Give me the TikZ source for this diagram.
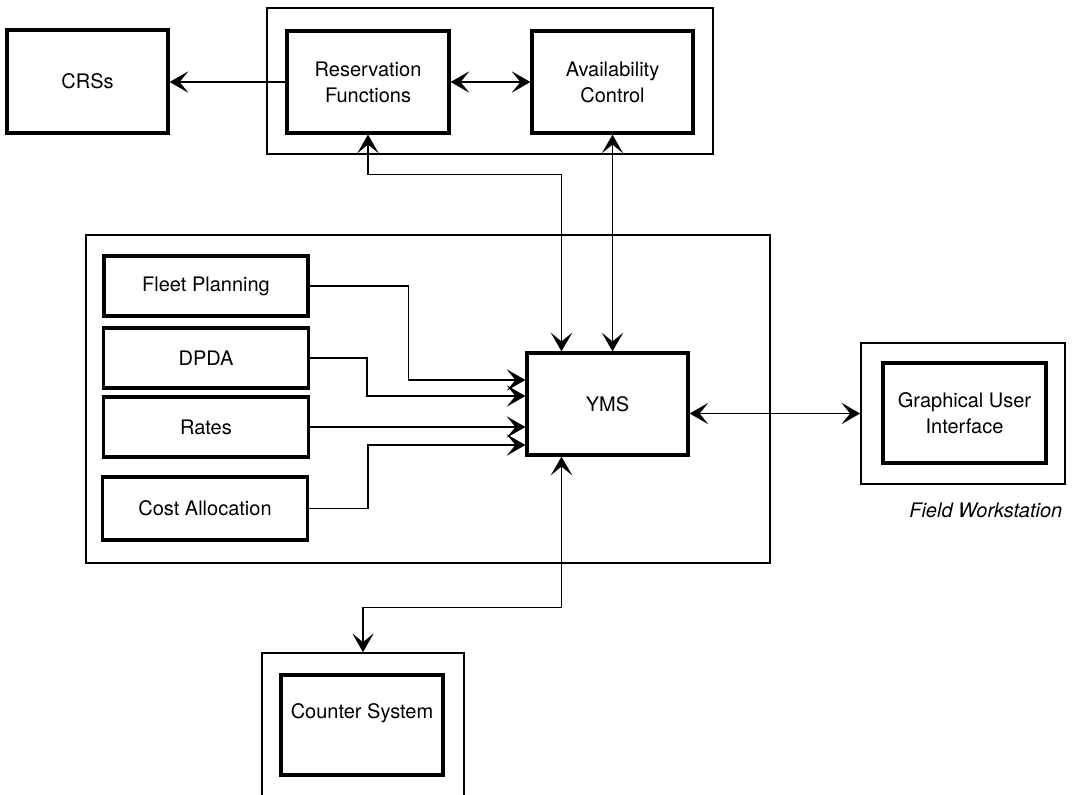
\documentclass[tikz,border=0pt]{standalone}
\usepackage{fontspec}
\setmainfont{TeX Gyre Heros}
\usepackage{tikz}
\usetikzlibrary{arrows.meta,positioning}
\newlength{\px}
\setlength{\px}{0.75pt}
\tikzstyle{chart} = [x = 0.75pt, y = -0.75pt, every node/.style={font=\fontsize{15}{19.5}\selectfont}]
\tikzstyle{moduleStyle} = [draw, line width=2.4pt, align=center, inner sep=0pt]
\tikzstyle{frameStyle} = [draw, line width=1.3pt, inner sep=0pt]
\tikzstyle{link} = [line width=1.3pt]
\tikzstyle{linkTip} = [link, -{Stealth[length=14pt, width=16pt, inset=6.5pt]}]
\tikzstyle{linkBoth} = [link, {Stealth[length=14pt, width=16pt, inset=6.5pt]}-{Stealth[length=14pt, width=16pt, inset=6.5pt]}]
\newcommand{\moduleBox}[6]{\node [moduleStyle, minimum width=#4*\px, minimum height=#5*\px] (#1) at (#2,#3) {#6};}
\newcommand{\frameBox}[5]{\node [frameStyle, minimum width=#4*\px, minimum height=#5*\px] (#1) at (#2,#3) {};}

\begin{document}
\begin{tikzpicture}[chart]
  \useasboundingbox (0,0) rectangle (1079,794);
  \clip (0,0) rectangle (1079,794);
  % frames
  \frameBox{topFrame}{490}{81}{446}{146}
  \frameBox{mainFrame}{428}{399}{684}{328}
  \frameBox{guiFrame}{963}{413.5}{204}{141}
  \frameBox{counterFrame}{363}{753}{202}{200}
  % modules
  \moduleBox{crs}{87.5}{81.5}{161}{103}{CRSs}
  \moduleBox{res}{368}{82}{162}{102}{Reservation\\Functions}
  \moduleBox{avail}{612.5}{82}{161}{102}{Availability\\Control}
  \moduleBox{fleet}{206}{286}{204}{60}{Fleet Planning}
  \moduleBox{dpda}{206}{358}{205}{60}{DPDA}
  \moduleBox{rates}{206}{427}{205}{60}{Rates}
  \moduleBox{cost}{205}{508.5}{205}{63}{Cost Allocation}
  \moduleBox{yms}{607.5}{404}{161}{102}{YMS}
  \moduleBox{gui}{964.5}{413}{163}{100}{Graphical User\\Interface}
  \moduleBox{counter}{362}{725}{162}{100}{}
  \node (counterText) at (362,713) {Counter System};
  \node [font=\fontsize{15}{19.5}\selectfont\itshape, anchor=east] (fieldText) at (1067,510) {Field Workstation};
  % connectors
  \path (yms.north) ++(-46,0) coordinate (ymsTopRes);
  \path (yms.west) ++(0,-24) coordinate (ymsInFleet);
  \path (yms.west) ++(0,-8) coordinate (ymsInDpda);
  \path (yms.west) ++(0,23) coordinate (ymsInRates);
  \path (yms.west) ++(0,41) coordinate (ymsInCost);
  \path (yms.south) ++(-46,0) coordinate (ymsBottom);
  \draw [linkTip] (res.west) -- (res.west -| crs.east);
  \draw [linkBoth] (res) -- (avail);
  \draw [linkBoth] (res.south) -- ++(0,40) -| (ymsTopRes);
  \draw [linkBoth] (avail.south) -- (avail.south |- yms.north);
  \draw [linkTip] (fleet.east) -- ++(99,0) |- (ymsInFleet);
  \draw [linkTip] (dpda.east) -- ++(57,0) |- (ymsInDpda);
  \draw [linkTip] (rates.east) -- (ymsInRates);
  \draw [linkTip] (cost.east) -- ++(59,0) |- (ymsInCost);
  \draw [linkBoth] (guiFrame.west) -- (guiFrame.west -| yms.east);
  \draw [linkBoth] (ymsBottom) -- ++(0,151) -| (counterFrame.north);
\end{tikzpicture}
\end{document}
